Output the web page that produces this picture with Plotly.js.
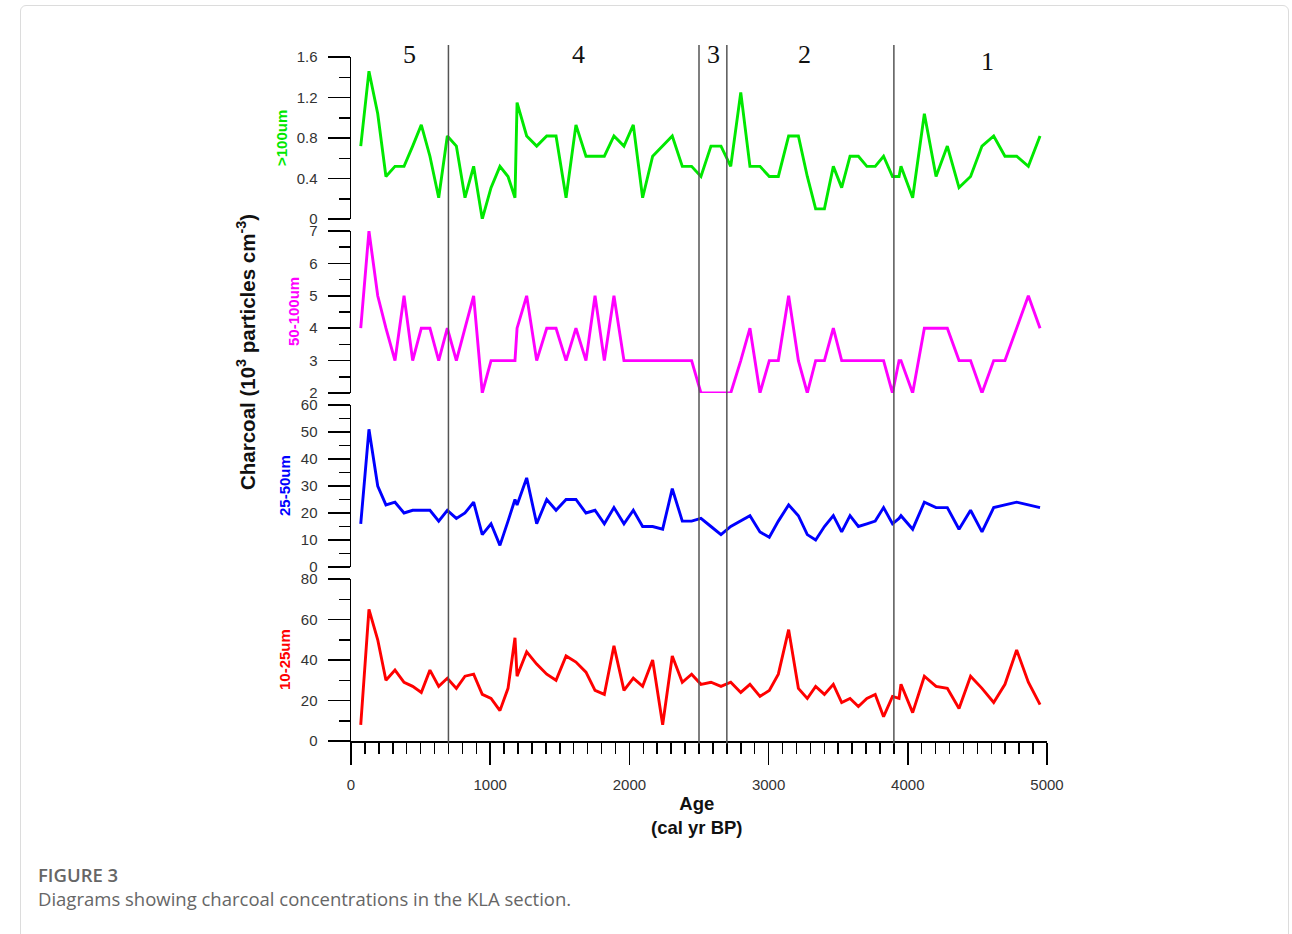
<!DOCTYPE html>
<html>
<head>
<meta charset="utf-8">
<script src="https://cdn.plot.ly/plotly-3.0.1.min.js"></script>
<style>
  html, body { margin: 0; padding: 0; background: #fff; }
  #wrap { position: relative; width: 1292px; height: 934px; overflow: hidden; }
  #frame { position: absolute; left: 20px; top: 5px; width: 1269px; height: 935px; border: 1px solid #dcdcdc; border-radius: 6px; box-sizing: border-box; }
  #chart { position: absolute; left: 0; top: 0; width: 1292px; height: 934px; }
  .cap { position: absolute; left: 38px; font-family: "Open Sans", "Noto Sans", sans-serif; color: #666; font-size: 18.5px; white-space: nowrap; }
  #cap1 { top: 862px; font-weight: 600; font-size: 18.5px; }
  #cap2 { top: 886px; font-weight: 400; }
</style>
</head>
<body>
<div id="wrap">
  <div id="frame"></div>
  <div id="chart"></div>
  <div class="cap" id="cap1">FIGURE 3</div>
  <div class="cap" id="cap2">Diagrams showing charcoal concentrations in the KLA section.</div>
</div>
<script>
// Age (cal yr BP) of each sample
const ages = [70,129,192,251,316,381,443,505,567,630,
  692,757,819,881,943,1006,1070,1128,1178,1193,
  1262,1334,1406,1473,1545,1616,1688,1753,1820,1889,
  1961,2028,2095,2167,2239,2308,2380,2447,2514,2586,
  2658,2728,2800,2866,2938,3005,3070,3144,3214,3278,
  3338,3401,3465,3525,3585,3645,3706,3766,3826,3890,
  3937,3951,4035,4119,4203,4284,4368,4451,4533,4617,
  4698,4782,4866,4950];

// Charcoal >100um (10^3 particles cm-3)
const charcoal100 = [0.72,1.46,1.04,0.42,0.52,0.52,0.72,0.93,0.62,0.21,
  0.82,0.72,0.21,0.52,0.0,0.31,0.52,0.42,0.21,1.15,
  0.82,0.72,0.82,0.82,0.21,0.93,0.62,0.62,0.62,0.82,
  0.72,0.93,0.21,0.62,0.72,0.82,0.52,0.52,0.42,0.72,
  0.72,0.52,1.25,0.52,0.52,0.42,0.42,0.82,0.82,0.42,
  0.1,0.1,0.52,0.31,0.62,0.62,0.52,0.52,0.62,0.42,
  0.42,0.52,0.21,1.04,0.42,0.72,0.31,0.42,0.72,0.82,
  0.62,0.62,0.52,0.82];

// Charcoal 50-100um
const charcoal50_100 = [4,7,5,4,3,5,3,4,4,3,
  4,3,4,5,2,3,3,3,3,4,
  5,3,4,4,3,4,3,5,3,5,
  3,3,3,3,3,3,3,3,2,2,
  2,2,3,4,2,3,3,5,3,2,
  3,3,4,3,3,3,3,3,3,2,
  3,3,2,4,4,4,3,3,2,3,
  3,4,5,4];

// Charcoal 25-50um
const charcoal25_50 = [16,51,30,23,24,20,21,21,21,17,
  21,18,20,24,12,16,8,17,25,23,
  33,16,25,21,25,25,20,21,16,22,
  16,21,15,15,14,29,17,17,18,15,
  12,15,17,19,13,11,17,23,19,12,
  10,15,19,13,19,15,16,17,22,16,
  18,19,14,24,22,22,14,21,13,22,
  23,24,23,22];

// Charcoal 10-25um
const charcoal10_25 = [8,65,50,30,35,29,27,24,35,27,
  31,26,32,33,23,21,15,26,51,32,
  44,38,33,30,42,39,34,25,23,47,
  25,31,27,40,8,42,29,33,28,29,
  27,29,24,28,22,25,33,55,26,21,
  27,23,28,19,21,17,21,23,12,22,
  21,28,14,32,27,26,16,32,26,19,
  28,45,29,18];

// Zone boundaries and zone labels
const zoneBounds = [700, 2500, 2700, 3900];
const zoneLabels = ['5', '4', '3', '2', '1'];
const zoneLabelAges = [417, 1631, 2601, 3261, 4576];

// Panel names
const panelNames = ['10-25um', '25-50um', '50-100um', '>100um'];
const panelColors = ['#ff0000', '#0000ff', '#ff00ff', '#00e800'];

const sans = 'Liberation Sans, Arial, sans-serif';

const series = [charcoal10_25, charcoal25_50, charcoal50_100, charcoal100];
const yids = ['y', 'y2', 'y3', 'y4'];
const traces = series.map((vals, i) => ({
  type: 'scatter', mode: 'lines',
  x: ages, y: vals, xaxis: 'x', yaxis: yids[i],
  name: panelNames[i],
  line: { color: panelColors[i], width: 2.9 },
  hoverinfo: 'x+y'
}));

const H = 684;
const dom = (top, bottom) => [(741 - bottom) / H, (741 - top) / H];

function yax(domain, range, dtick, minorDtick) {
  return {
    domain: domain, range: range, dtick: dtick, tick0: range[0],
    showline: true, linecolor: '#000', linewidth: 1.5,
    ticks: 'outside', ticklen: 22, tickwidth: 1.5, tickcolor: '#000',
    minor: { ticks: 'outside', ticklen: 11, tickwidth: 1.5, tickcolor: '#000', dtick: minorDtick, tick0: range[0] },
    showgrid: false, zeroline: false, fixedrange: true,
    tickfont: { family: sans, size: 15, color: '#333' },
    ticklabelstandoff: 7,
    anchor: 'x'
  };
}

const shapes = zoneBounds.map(a => ({
  type: 'line', xref: 'x', yref: 'paper', x0: a, x1: a,
  y0: -0.004, y1: 1.0175,
  line: { color: '#555', width: 1.5 }
}));

const annotations = [];
zoneLabels.forEach((t, i) => {
  annotations.push({
    text: t, xref: 'x', yref: 'paper', x: zoneLabelAges[i],
    y: i === 4 ? (741 - 62) / H : (741 - 55) / H,
    xanchor: 'center', yanchor: 'middle', showarrow: false,
    font: { family: 'Liberation Serif, Times New Roman, serif', size: 26, color: '#111' }
  });
});
const panelCenters = [660, 486, 312, 138];
const panelTitleX = [284, 284, 293, 281];
panelNames.forEach((t, i) => {
  annotations.push({
    text: '<b>' + t.replace('>', '&gt;') + '</b>', xref: 'paper', yref: 'paper',
    x: (panelTitleX[i] - 351) / 696, y: (741 - panelCenters[i]) / H,
    xanchor: 'center', yanchor: 'middle', textangle: -90, showarrow: false,
    font: { family: sans, size: 15, color: panelColors[i] }
  });
});
annotations.push({
  text: '<b>Charcoal (10<sup>3</sup> particles cm<sup>-3</sup>)</b>',
  xref: 'paper', yref: 'paper', x: (246 - 351) / 696, y: (741 - 352) / H,
  xanchor: 'center', yanchor: 'middle', textangle: -90, showarrow: false,
  font: { family: sans, size: 20.5, color: '#111' }
});
annotations.push({
  text: '<b>Age<br>(cal yr BP)</b>',
  xref: 'paper', yref: 'paper', x: (697 - 351) / 696, y: (741 - 815) / H,
  xanchor: 'center', yanchor: 'middle', showarrow: false,
  font: { family: sans, size: 18.5, color: '#111' }
});

const layout = {
  width: 1292, height: 934,
  margin: { l: 351, r: 245, t: 57, b: 193, pad: 0 },
  paper_bgcolor: 'rgba(0,0,0,0)', plot_bgcolor: 'rgba(0,0,0,0)',
  showlegend: false,
  xaxis: {
    range: [0, 5000], dtick: 1000, tick0: 0, anchor: 'y',
    showline: true, linecolor: '#000', linewidth: 1.5,
    ticks: 'outside', ticklen: 22, tickwidth: 1.5, tickcolor: '#000',
    minor: { ticks: 'outside', ticklen: 11, tickwidth: 1.5, tickcolor: '#000', dtick: 100, tick0: 0 },
    showgrid: false, zeroline: false, fixedrange: true,
    tickfont: { family: sans, size: 15, color: '#333' },
    ticklabelstandoff: 7
  },
  yaxis: yax(dom(579, 741), [0, 80], 20, 10),
  yaxis2: yax(dom(405, 567), [0, 60], 10, 5),
  yaxis3: yax(dom(231, 393), [2, 7], 1, 0.5),
  yaxis4: yax(dom(57, 219), [0, 1.6], 0.4, 0.2),
  shapes: shapes,
  annotations: annotations
};

Plotly.newPlot('chart', traces, layout, { staticPlot: true, displayModeBar: false });
</script>
</body>
</html>
